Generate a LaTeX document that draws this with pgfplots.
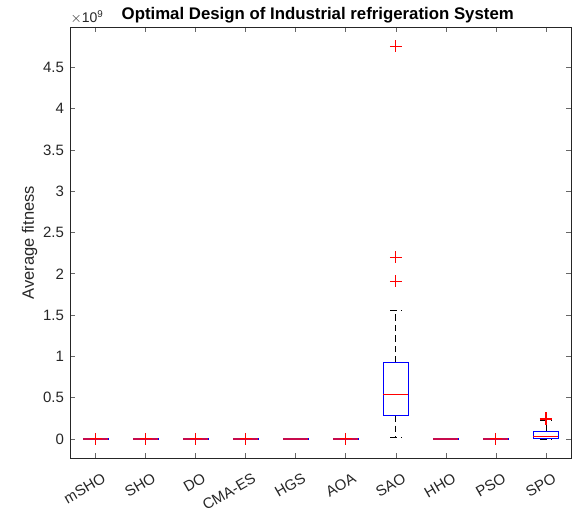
\documentclass[border=0pt]{standalone}
\usepackage{pgfplots}
\pgfplotsset{compat=1.18}
\usepgfplotslibrary{statistics}
\usepackage{fontspec}
\setmainfont{Liberation Sans}
\definecolor{axgray}{rgb}{0.15,0.15,0.15}
\definecolor{flatc}{rgb}{0.78,0.04,0.30}
\begin{document}
\begin{tikzpicture}[x=1pt,y=1pt]
\useasboundingbox (-70.5,-56.7) rectangle (503.5,458.3);
\begin{axis}[
  at={(0,0)}, anchor=south west,
  scale only axis, width=500.5pt, height=431.3pt,
  xmin=0.5, xmax=10.5, ymin=-0.234, ymax=4.988,
  xtick={1,2,3,4,5,6,7,8,9,10},
  xticklabels={mSHO,SHO,DO,CMA-ES,HGS,AOA,SAO,HHO,PSO,SPO},
  ytick={0,0.5,1,1.5,2,2.5,3,3.5,4,4.5},
  yticklabels={0,0.5,1,1.5,2,2.5,3,3.5,4,4.5},
  tick align=inside, major tick length=5pt,
  every tick/.style={axgray!70, line width=0.6pt},
  axis line style={axgray, line width=0.7pt},
  tick label style={font=\fontsize{15}{17}\selectfont, text=axgray},
  xticklabel style={xshift=6pt, yshift=-14pt, rotate=30, anchor=north east, inner sep=0pt},
  yticklabel style={xshift=-3pt},
  ylabel={Average fitness},
  every axis y label/.style={at={(axis description cs:0,0.5)}, xshift=-41pt, rotate=90, anchor=center},
  ylabel style={font=\fontsize{16.5}{19}\selectfont, text=axgray},
  title={\bfseries Optimal Design of Industrial refrigeration System},
  title style={font=\fontsize{16.8}{19}\selectfont, yshift=-6pt, xshift=-3pt},
  boxplot/draw direction=y,
  boxplot/box extend=0.5,
  boxplot/whisker extend=0.22,
  boxplot/every box/.style={draw=blue, line width=0.9pt},
  boxplot/every median/.style={draw=red, line width=0.9pt},
  boxplot/every whisker/.style={draw=black, line width=0.8pt, dash pattern=on 6.5pt off 4pt},
  clip=false,
]
\pgfplotsset{bx/.style={draw=blue, mark=none},
  flat/.style={boxplot/every median/.style={draw=flatc, line width=2.6pt}},
  out/.style={only marks, mark=+, mark size=6pt, red, mark options={red, solid, line width=1.1pt}}}
\addplot[bx, flat, boxplot prepared={draw position=1, median=0, upper quartile=0.001, lower quartile=0, upper whisker=0.001, lower whisker=0}] coordinates {};
\addplot[bx, flat, boxplot prepared={draw position=2, median=0, upper quartile=0.001, lower quartile=0, upper whisker=0.001, lower whisker=0}] coordinates {};
\addplot[bx, flat, boxplot prepared={draw position=3, median=0, upper quartile=0.001, lower quartile=0, upper whisker=0.001, lower whisker=0}] coordinates {};
\addplot[bx, flat, boxplot prepared={draw position=4, median=0, upper quartile=0.001, lower quartile=0, upper whisker=0.001, lower whisker=0}] coordinates {};
\addplot[bx, flat, boxplot prepared={draw position=5, median=0, upper quartile=0.001, lower quartile=0, upper whisker=0.001, lower whisker=0}] coordinates {};
\addplot[bx, flat, boxplot prepared={draw position=6, median=0, upper quartile=0.001, lower quartile=0, upper whisker=0.001, lower whisker=0}] coordinates {};
\addplot[bx, boxplot prepared={draw position=7, median=0.543, upper quartile=0.923, lower quartile=0.288, upper whisker=1.556, lower whisker=0.015}] coordinates {};
\addplot[bx, flat, boxplot prepared={draw position=8, median=0, upper quartile=0.001, lower quartile=0, upper whisker=0.001, lower whisker=0}] coordinates {};
\addplot[bx, flat, boxplot prepared={draw position=9, median=0, upper quartile=0.001, lower quartile=0, upper whisker=0.001, lower whisker=0}] coordinates {};
\addplot[bx, boxplot prepared={draw position=10, median=0.036, upper quartile=0.097, lower quartile=0.002, upper whisker=0.23, lower whisker=0}] coordinates {};
% outliers
\addplot[out] coordinates {(1,0.002) (2,0.002) (3,0.002) (4,0.002) (6,0.002) (9,0.002)
  (7,4.754) (7,2.202) (7,1.911) (10,0.248) (10,0.242)};
\end{axis}
\node[anchor=south west, inner sep=0pt, text=axgray, font=\fontsize{14}{16}\selectfont] at (0,434) {$\times$10\textsuperscript{9}};
\end{tikzpicture}
\end{document}
